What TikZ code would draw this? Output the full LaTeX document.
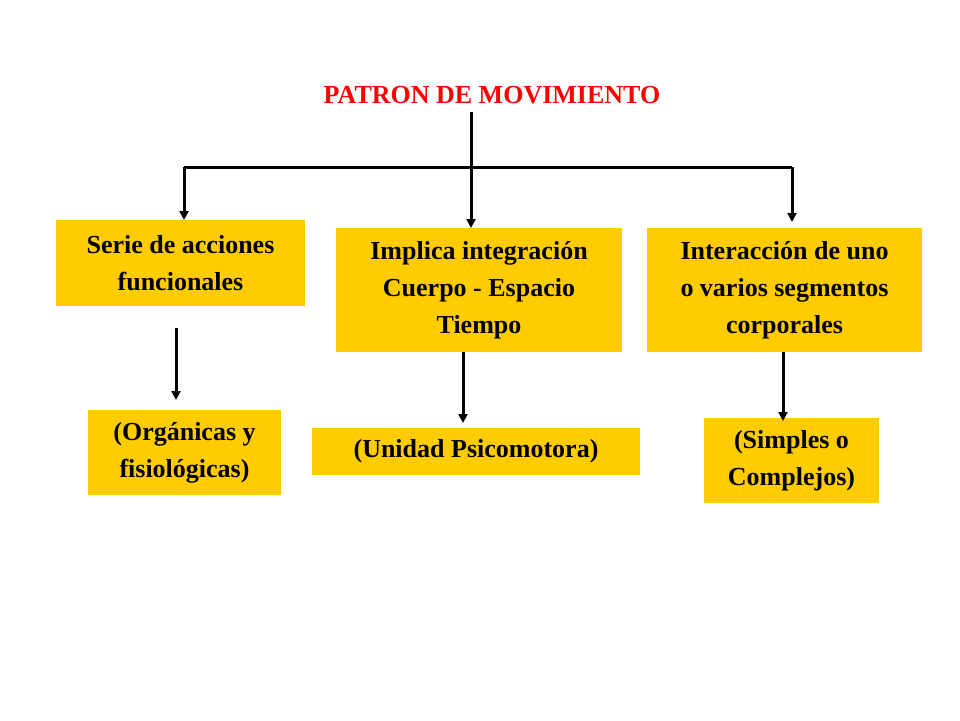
\documentclass[tikz,border=0pt]{standalone}
\usepackage{fontspec}
\setmainfont{Liberation Serif}
\usetikzlibrary{arrows.meta}
\definecolor{boxy}{HTML}{FFCC00}
\definecolor{tred}{HTML}{FF0000}
\begin{document}
\begin{tikzpicture}[x=1pt,y=-1pt,
  bx/.style={fill=boxy,inner sep=0pt,align=center,font=\fontsize{26}{37}\selectfont\bfseries},
  ln/.style={line width=3pt},
  ar/.style={line width=3pt,-{Triangle[length=9pt,width=9pt]}}]
\useasboundingbox (0,0) rectangle (960,720);
\fill[white] (0,0) rectangle (960,720);
\node[font=\fontsize{26}{30}\selectfont\bfseries,text=tred] (t) at (492,95) {PATRON DE MOVIMIENTO};
\node[bx,minimum width=249pt,minimum height=86pt] (b1) at (180.5,263) {Serie de acciones\\ funcionales};
\node[bx,minimum width=286pt,minimum height=124pt] (b2) at (479,290) {Implica integración\\Cuerpo - Espacio\\Tiempo};
\node[bx,minimum width=275pt,minimum height=124pt] (b3) at (784.5,290) {Interacción de uno\\o varios segmentos\\corporales};
\node[bx,minimum width=193pt,minimum height=85pt] (b4) at (184.5,452.5) {(Orgánicas y\\ fisiológicas)};
\node[bx,minimum width=328pt,minimum height=47pt] (b5) at (476,451.5) {(Unidad Psicomotora)};
\node[bx,minimum width=175pt,minimum height=85pt] (b6) at (791.5,460.5) {(Simples o\\Complejos)};
\coordinate (top) at (471,112);
\coordinate (hl) at (184,167);
\coordinate (hr) at (792,167);
\draw[ln] (hl) -- (hr);
\draw[ar] (top) -- (471,228);
\draw[ar] (hl) -- (184,220);
\draw[ar] (hr) -- (792,222);
\draw[ar] (176,328) -- (176,400);
\draw[ar] (463,352) -- (463,423);
\draw[ar] (783,352) -- (783,421);
\end{tikzpicture}
\end{document}
